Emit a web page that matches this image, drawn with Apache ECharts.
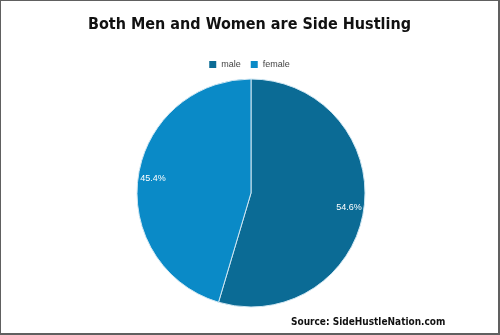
<!DOCTYPE html>
<html>
<head>
<meta charset="utf-8">
<script src="https://cdn.jsdelivr.net/npm/echarts@6/dist/echarts.min.js"></script>
<style>
  html, body { margin: 0; padding: 0; background: #fff; }
  #chart {
    width: 497px;
    height: 332px;
    border-style: solid;
    border-color: #606060;
    border-width: 1px 2px 2px 1px;
  }
</style>
</head>
<body>
<div id="chart"></div>
<script>
const categories = ['male', 'female']
const values = [54.6, 45.4]
const colors = ['#0b6b95', '#0a8ac7']

const pieData = categories.map((name, i) => ({ name, value: values[i] }))

const chart = echarts.init(document.getElementById('chart'))

chart.setOption({
  animation: false,
  color: colors,
  title: [
    {
      text: 'Both Men and Women are Side Hustling',
      left: 'center',
      top: 11,
      textStyle: {
        fontFamily: 'DejaVu Sans Condensed',
        fontWeight: 'bold',
        fontSize: 16,
        color: '#111'
      }
    },
    {
      text: 'Source: SideHustleNation.com',
      left: 285,
      top: 311,
      textStyle: {
        fontFamily: 'DejaVu Sans Condensed',
        fontWeight: 'bold',
        fontSize: 10,
        color: '#111'
      }
    }
  ],
  legend: {
    top: 54,
    left: 'center',
    icon: 'rect',
    itemWidth: 7,
    itemHeight: 7,
    itemGap: 10,
    itemStyle: { borderWidth: 0 },
    textStyle: {
      fontFamily: 'Liberation Sans',
      fontSize: 9,
      color: '#444'
    },
    data: categories
  },
  series: [
    {
      type: 'pie',
      center: [250, 192],
      radius: [0, 114],
      startAngle: 90,
      clockwise: true,
      data: pieData,
      itemStyle: { borderColor: '#cfe6f2', borderWidth: 1 },
      label: { show: false },
      labelLine: { show: false },
      emphasis: { disabled: true }
    },
    {
      // transparent ring just to place the % labels out near the edge
      type: 'pie',
      center: [250, 192],
      radius: [78, 114],
      startAngle: 90,
      clockwise: true,
      silent: true,
      legendHoverLink: false,
      data: pieData,
      itemStyle: { color: 'transparent', borderWidth: 0 },
      label: {
        show: true,
        position: 'inside',
        formatter: p => p.value.toFixed(1) + '%',
        fontFamily: 'Liberation Sans',
        fontSize: 9,
        color: '#fff'
      },
      labelLine: { show: false },
      emphasis: { disabled: true }
    }
  ]
})
</script>
</body>
</html>
